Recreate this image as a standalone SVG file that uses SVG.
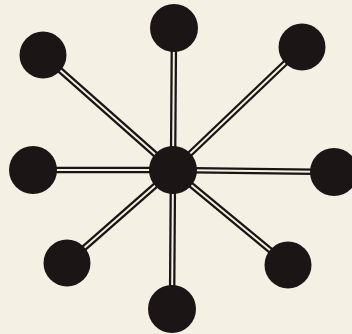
<svg xmlns="http://www.w3.org/2000/svg" width="352" height="334" viewBox="0 0 352 334">
<style>
.bg{fill:#f4f1e4}
.edge-o{stroke:#1a1414;stroke-width:6.5;fill:none}
.edge-i{stroke:#f4f1e4;stroke-width:2;fill:none}
.node{fill:#1c1515}
</style>
<rect class="bg" x="0" y="0" width="352" height="334"/>
<g id="connectors">
<g class="edge-o">
<line x1="173" y1="170" x2="174" y2="28"/>
<line x1="173" y1="170" x2="43" y2="55"/>
<line x1="173" y1="170" x2="302" y2="47"/>
<line x1="173" y1="170" x2="33" y2="170"/>
<line x1="173" y1="170" x2="334" y2="172"/>
<line x1="173" y1="170" x2="67" y2="263"/>
<line x1="173" y1="170" x2="172" y2="309"/>
<line x1="173" y1="170" x2="288" y2="265"/>
</g>
<g class="edge-i">
<line x1="173" y1="170" x2="174" y2="28"/>
<line x1="173" y1="170" x2="43" y2="55"/>
<line x1="173" y1="170" x2="302" y2="47"/>
<line x1="173" y1="170" x2="33" y2="170"/>
<line x1="173" y1="170" x2="334" y2="172"/>
<line x1="173" y1="170" x2="67" y2="263"/>
<line x1="173" y1="170" x2="172" y2="309"/>
<line x1="173" y1="170" x2="288" y2="265"/>
</g>
</g>
<g id="center"><circle class="node" cx="173" cy="170" r="24"/></g>
<g id="n-top"><circle class="node" cx="174" cy="28" r="24"/></g>
<g id="n-topleft"><circle class="node" cx="43" cy="55" r="23.5"/></g>
<g id="n-topright"><circle class="node" cx="302" cy="47" r="23.5"/></g>
<g id="n-left"><circle class="node" cx="33" cy="170" r="24"/></g>
<g id="n-right"><circle class="node" cx="334" cy="172" r="24"/></g>
<g id="n-bottomleft"><circle class="node" cx="67" cy="263" r="23.5"/></g>
<g id="n-bottom"><circle class="node" cx="172" cy="309" r="24"/></g>
<g id="n-bottomright"><circle class="node" cx="288" cy="265" r="23.5"/></g>
</svg>
